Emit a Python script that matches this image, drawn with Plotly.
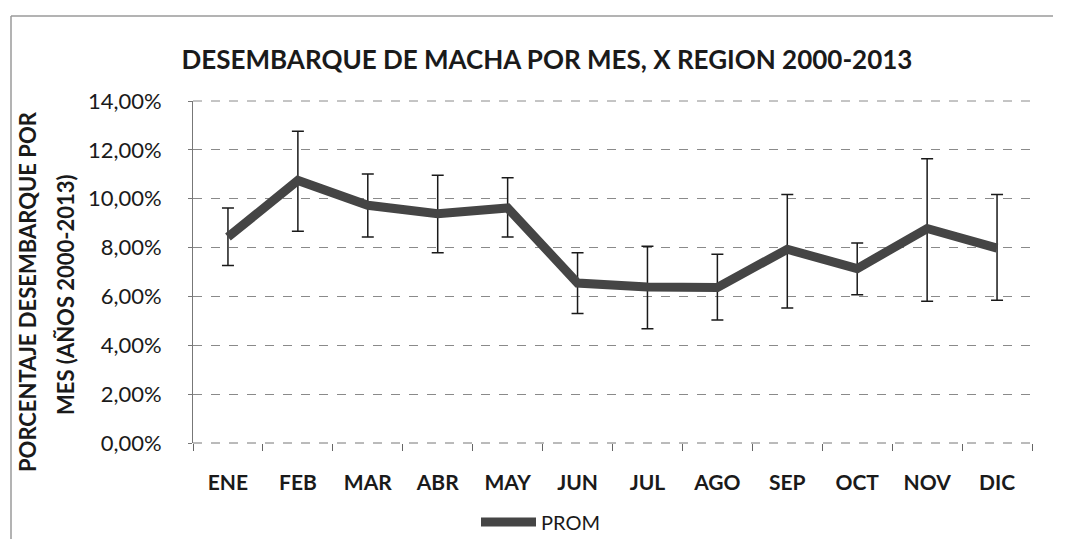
import plotly.graph_objects as go

months = ["ENE", "FEB", "MAR", "ABR", "MAY", "JUN", "JUL", "AGO", "SEP", "OCT", "NOV", "DIC"]
prom = [0.0843, 0.1075, 0.0973, 0.0939, 0.0962, 0.0655, 0.0639, 0.0637, 0.0793, 0.0714, 0.0878, 0.0798]
err_plus = [0.0119, 0.0201, 0.0128, 0.0157, 0.0124, 0.0124, 0.0166, 0.0136, 0.0224, 0.0105, 0.0286, 0.0219]
err_minus = [0.0116, 0.0208, 0.0130, 0.0160, 0.0119, 0.0125, 0.0171, 0.0134, 0.0240, 0.0107, 0.0298, 0.0214]
y_ticks = [0, 0.02, 0.04, 0.06, 0.08, 0.10, 0.12, 0.14]

FONT = "Lato, sans-serif"

fig = go.Figure()
fig.add_trace(go.Scatter(
    x=months, y=prom, mode="lines", name="PROM",
    line=dict(color="#454545", width=9),
    error_y=dict(type="data", symmetric=False, array=err_plus, arrayminus=err_minus,
                 color="#1a1a1a", thickness=1.5, width=6),
))

# screen coordinates of the plot area (page has an 8px body margin)
OFF = 8
L, R, T, B = 193, 1032, 101, 443
W, H = 1066 - 2 * OFF - 4, 552 - 2 * OFF - 4
pw, ph = R - L, B - T

def px(x):
    return (x - L) / pw

def py(y):
    return (B - y) / ph

fig.update_layout(
    width=W, height=H,
    margin=dict(l=L - OFF, r=W - (R - OFF), t=T - OFF, b=H - (B - OFF), pad=0, autoexpand=False),
    paper_bgcolor="white", plot_bgcolor="white",
    separators=",.",
    font=dict(family=FONT, color="#1a1a1a"),
    title=dict(text="<b>DESEMBARQUE DE MACHA POR MES, X REGION 2000-2013</b>",
               x=(547 - OFF) / W, xref="container", xanchor="center",
               y=1 - (60 - OFF) / H, yref="container", yanchor="middle",
               font=dict(size=26, family=FONT, color="#1a1a1a")),
    showlegend=True,
    legend=dict(orientation="h", x=px(476), xanchor="left", y=py(522), yanchor="middle",
                font=dict(size=20, family=FONT, color="#1a1a1a"),
                bgcolor="rgba(0,0,0,0)", itemwidth=55),
    xaxis=dict(
        type="category", showgrid=False, showline=False,
        ticks="outside", tickson="boundaries", ticklen=7, tickcolor="#666", tickwidth=1,
        tickfont=dict(size=21, family=FONT, color="#1a1a1a"),
        ticklabelstandoff=25,
        tickprefix="<b>", ticksuffix="</b>",
        range=[-0.5, 11.5],
    ),
    yaxis=dict(
        range=[0, 0.14], tickvals=y_ticks, tickformat=".2%",
        showgrid=True, gridcolor="#8a8a8a", griddash="dash", gridwidth=1,
        showline=True, linecolor="#777", linewidth=1,
        ticks="outside", ticklen=4, tickcolor="#777",
        tickfont=dict(size=22, family=FONT, color="#1a1a1a"),
        tickprefix="<b>", ticksuffix="</b>",
        ticklabelstandoff=22,
        zeroline=False,
    ),
    annotations=[
        dict(text="<b>PORCENTAJE DESEMBARQUE POR</b>", xref="paper", yref="paper",
             x=px(27), y=py(292), xanchor="center", yanchor="middle", textangle=-90,
             showarrow=False, font=dict(size=22, family=FONT, color="#1a1a1a")),
        dict(text="<b>MES (AÑOS 2000-2013)</b>", xref="paper", yref="paper",
             x=px(65), y=py(295), xanchor="center", yanchor="middle", textangle=-90,
             showarrow=False, font=dict(size=22, family=FONT, color="#1a1a1a")),
    ],
    shapes=[
        dict(type="line", xref="paper", yref="paper", x0=px(11), x1=px(OFF + W - 1), y0=py(16), y1=py(16),
             line=dict(color="#9a9a9a", width=1.5)),
        dict(type="line", xref="paper", yref="paper", x0=px(11), x1=px(11), y0=py(16), y1=py(OFF + H - 1),
             line=dict(color="#9a9a9a", width=1.5)),
        dict(type="line", xref="paper", yref="paper", x0=0, x1=1, y0=1, y1=1,
             line=dict(color="#8a8a8a", width=1, dash="dash")),
        dict(type="line", xref="paper", yref="paper", x0=0, x1=1, y0=0, y1=0,
             line=dict(color="#777", width=1, dash="dash")),
    ],
)

fig.write_html("out.html")
